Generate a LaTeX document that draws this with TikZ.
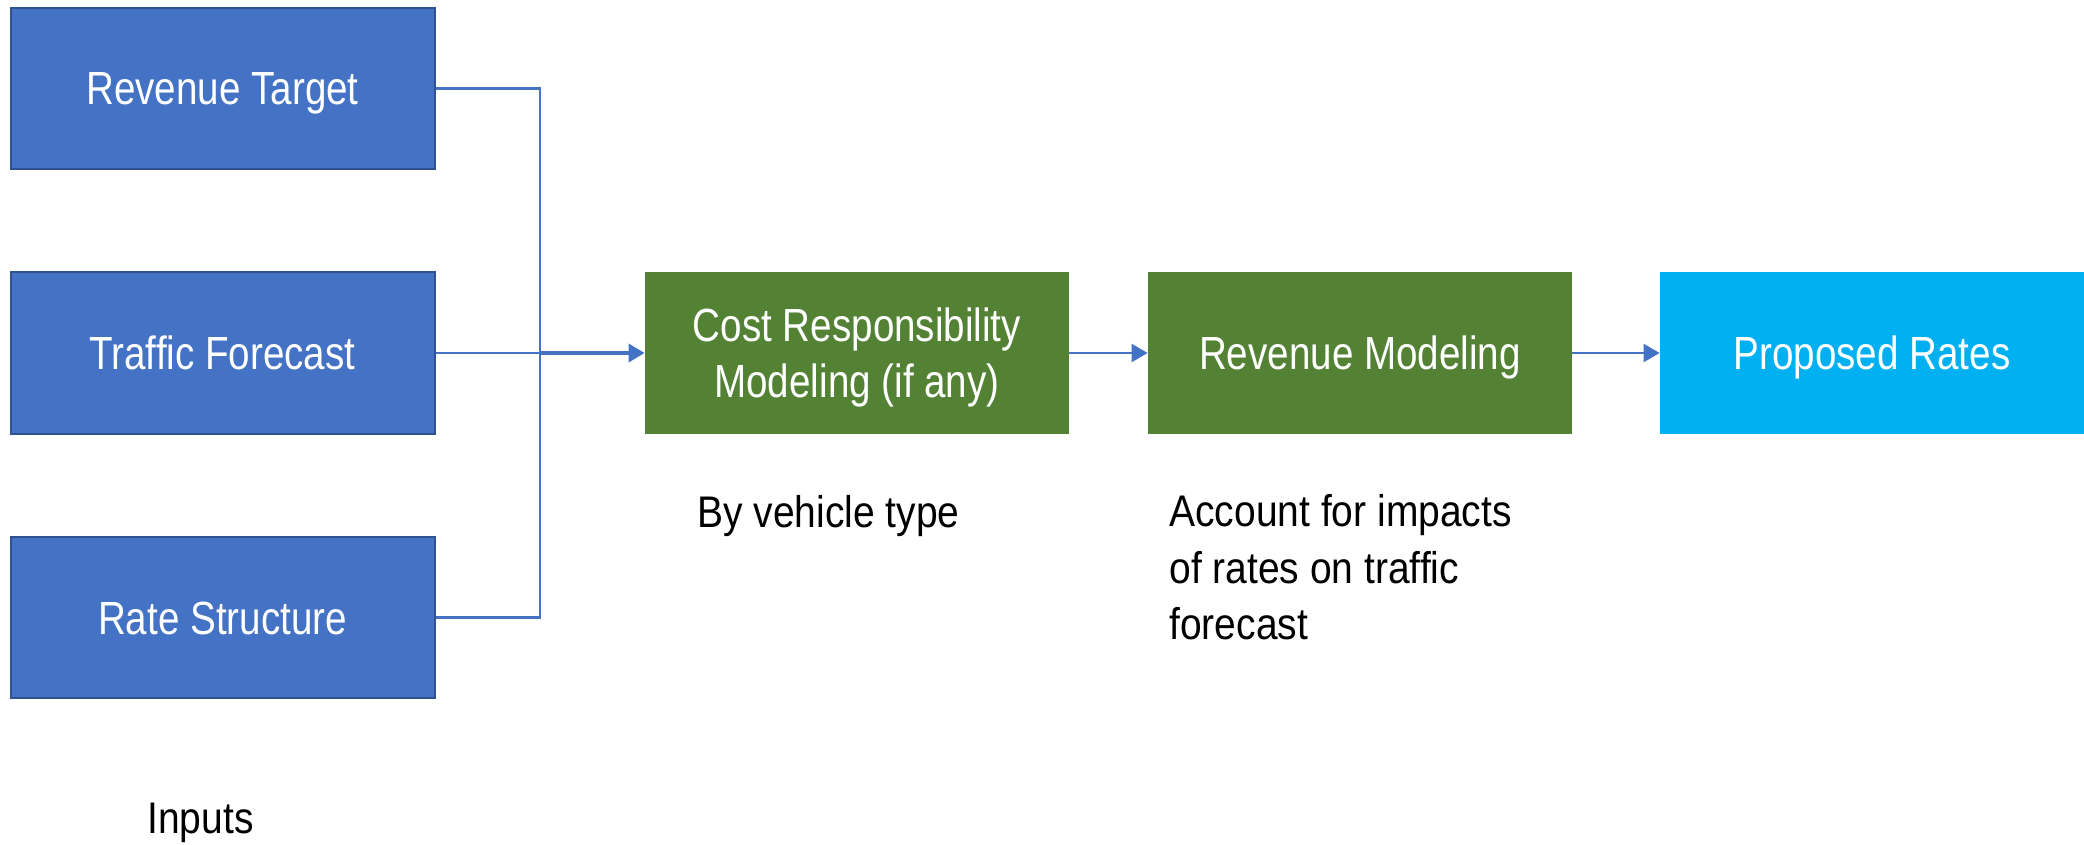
\documentclass[tikz,border=0pt]{standalone}
\usepackage{fontspec}
\setmainfont{Liberation Sans}[FakeStretch=0.88]
\newfontfamily\boxfont{Liberation Sans}[FakeStretch=0.83]
\usetikzlibrary{arrows.meta}
\definecolor{inblue}{HTML}{4472C4}
\definecolor{inborder}{HTML}{2F528F}
\definecolor{mgreen}{HTML}{548235}
\definecolor{rcyan}{HTML}{00B0F0}
\tikzset{
  basebox/.style={rectangle, inner sep=0pt, minimum width=212pt, minimum height=80.5pt,
    text=white, align=center, font=\boxfont\fontsize{23.25pt}{28pt}\selectfont},
  oneline/.style={text height=16.5pt, text depth=0pt},
  inbox/.style={basebox, oneline, fill=inblue, draw=inborder, line width=1pt},
  greenbox/.style={basebox, fill=mgreen},
  cyanbox/.style={basebox, oneline, fill=rcyan},
  conn/.style={draw=inblue, line width=1.2pt},
  arr/.style={conn, -{Triangle[length=8pt,width=9pt]}},
  note/.style={inner sep=0pt, align=left, font=\fontsize{22.15pt}{28.25pt}\selectfont}
}
\begin{document}
\begin{tikzpicture}[x=0.5pt,y=-0.5pt]
\useasboundingbox (0,0) rectangle (2084,845);
\node[inbox] (rt) at (222.5,88.5) {Revenue Target};
\node[inbox] (tf) at (222.5,353) {Traffic Forecast};
\node[inbox] (rs) at (222.5,617.5) {Rate Structure};
\node[greenbox, text depth=0pt] (cost) at (857,353) {Cost Responsibility\\Modeling (if any)};
\node[greenbox, oneline] (rev) at (1360,353) {Revenue Modeling};
\node[cyanbox] (prop) at (1872,353) {Proposed Rates};
\coordinate (j) at (540,353);
\draw[conn] (rt.east) -| (j) |- (rs.east);
\draw[conn] (tf.east) -- (j);
\draw[arr, line width=1.8pt] (j) -- (cost.west);
\draw[arr] (cost.east) -- (rev.west);
\draw[arr] (rev.east) -- (prop.west);
\node[note, anchor=base west] (veh) at (697,527) {By vehicle type};
\node[note, anchor=north west] (acc) at (1169,494) {Account for impacts\\of rates on traffic\\forecast};
\node[note, anchor=base west] (inp) at (147,833) {Inputs};
\end{tikzpicture}
\end{document}
